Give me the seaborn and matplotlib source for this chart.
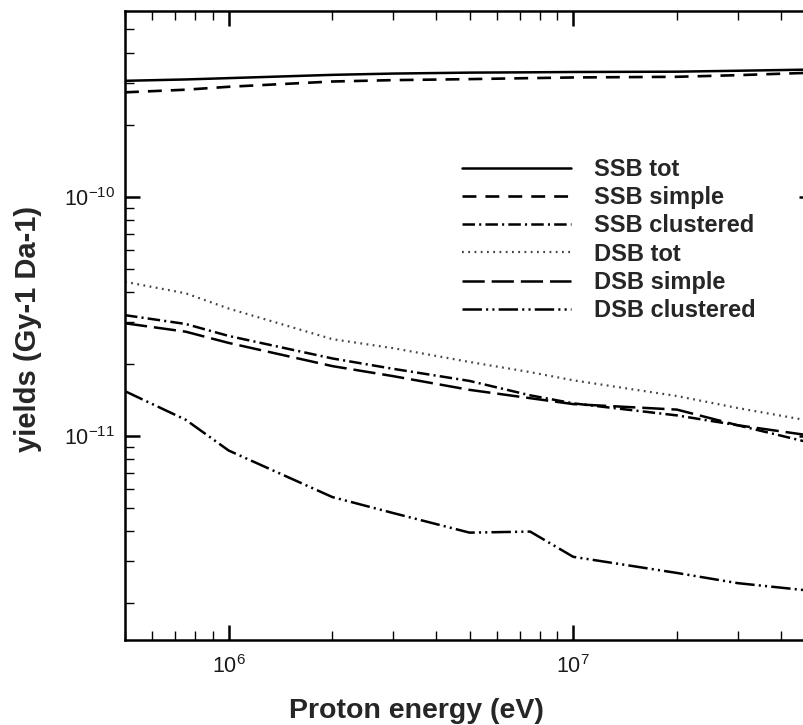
import numpy as np
import pandas as pd
import matplotlib
matplotlib.use("Agg")
import matplotlib.pyplot as plt
import seaborn as sns
from matplotlib.ticker import FixedLocator, LogFormatterMathtext, NullFormatter

# ---- data ----
energy_eV = [5e5, 7.5e5, 1e6, 2e6, 3e6, 5e6, 7.5e6, 1e7, 2e7, 3e7, 5e7]
ssb_tot = [3.05e-10, 3.09e-10, 3.13e-10, 3.23e-10, 3.27e-10, 3.30e-10, 3.31e-10, 3.32e-10, 3.33e-10, 3.36e-10, 3.40e-10]
ssb_simple = [2.73e-10, 2.80e-10, 2.88e-10, 3.03e-10, 3.07e-10, 3.10e-10, 3.13e-10, 3.15e-10, 3.17e-10, 3.22e-10, 3.30e-10]
ssb_clustered = [3.20e-11, 2.94e-11, 2.62e-11, 2.11e-11, 1.91e-11, 1.70e-11, 1.48e-11, 1.37e-11, 1.22e-11, 1.11e-11, 9.3e-12]
dsb_tot = [4.41e-11, 3.95e-11, 3.41e-11, 2.54e-11, 2.33e-11, 2.04e-11, 1.85e-11, 1.71e-11, 1.47e-11, 1.31e-11, 1.15e-11]
dsb_simple = [2.96e-11, 2.73e-11, 2.45e-11, 1.96e-11, 1.78e-11, 1.56e-11, 1.44e-11, 1.36e-11, 1.29e-11, 1.11e-11, 1.00e-11]
dsb_clustered = [1.54e-11, 1.17e-11, 8.7e-12, 5.56e-12, 4.77e-12, 3.95e-12, 3.99e-12, 3.13e-12, 2.68e-12, 2.43e-12, 2.25e-12]

series_names = ["SSB tot", "SSB simple", "SSB clustered", "DSB tot", "DSB simple", "DSB clustered"]
series_values = [ssb_tot, ssb_simple, ssb_clustered, dsb_tot, dsb_simple, dsb_clustered]

x_major_ticks = [1e6, 1e7]
y_major_ticks = [1e-11, 1e-10]

# ---- styling ----
sns.set_style("ticks")
plt.rcParams["font.family"] = ["Liberation Sans", "DejaVu Sans"]
plt.rcParams["mathtext.fontset"] = "custom"
plt.rcParams["mathtext.rm"] = "Liberation Sans"
plt.rcParams["mathtext.it"] = "Liberation Sans"
plt.rcParams["lines.scale_dashes"] = False
plt.rcParams["axes.edgecolor"] = "black"
plt.rcParams["xtick.color"] = "black"
plt.rcParams["ytick.color"] = "black"

styles = {
    "SSB tot": dict(linestyle="-", lw=1.8, color="black"),
    "SSB simple": dict(linestyle=(0, (10, 6.5)), lw=1.9, color="black"),
    "SSB clustered": dict(linestyle=(0, (9, 3, 1.5, 3)), lw=1.8, color="black"),
    "DSB tot": dict(linestyle=(0, (1.3, 3.2)), lw=1.6, color="#444444"),
    "DSB simple": dict(linestyle=(0, (16, 5)), lw=1.8, color="black"),
    "DSB clustered": dict(linestyle=(0, (14, 3, 1.5, 3, 1.5, 3)), lw=1.8, color="black"),
}

fig = plt.figure(figsize=(8.04, 7.25), dpi=100)
ax = fig.add_axes([125 / 804, 85 / 725, 689 / 804, 629 / 725])

for name, vals in zip(series_names, series_values):
    df = pd.DataFrame({"energy": energy_eV, "yield": vals})
    sns.lineplot(data=df, x="energy", y="yield", ax=ax, label=name, **styles[name])

ax.set_xscale("log")
ax.set_yscale("log")
ax.set_xlim(5e5, 5e7)
ax.set_ylim(1.406e-12, 5.97e-10)

for s in ax.spines.values():
    s.set_linewidth(1.8)
    s.set_visible(True)

x_minor = [m * 10 ** e for e in (5, 6, 7) for m in range(2, 10)]
y_minor = [m * 10 ** e for e in (-12, -11, -10) for m in range(2, 10)]
x_minor = [v for v in x_minor if 5e5 <= v <= 5e7]
y_minor = [v for v in y_minor if 1.406e-12 <= v <= 5.97e-10]

ax.xaxis.set_major_locator(FixedLocator(x_major_ticks))
ax.xaxis.set_major_formatter(LogFormatterMathtext())
ax.xaxis.set_minor_locator(FixedLocator(x_minor))
ax.xaxis.set_minor_formatter(NullFormatter())
ax.yaxis.set_major_locator(FixedLocator(y_major_ticks))
ax.yaxis.set_major_formatter(LogFormatterMathtext())
ax.yaxis.set_minor_locator(FixedLocator(y_minor))
ax.yaxis.set_minor_formatter(NullFormatter())

ax.tick_params(which="major", direction="in", length=11, width=1.8, top=True, right=True,
               labelsize=15.5, labelcolor="#1a1a1a", pad=7)
ax.tick_params(which="minor", direction="in", length=6.5, width=1.0, top=True, right=True)
ax.tick_params(axis="x", which="major", pad=11)

ax.set_xlabel("Proton energy (eV)", fontsize=20.5, fontweight="bold")
ax.set_ylabel("yields (Gy-1 Da-1)", fontsize=21, fontweight="bold")
ax.xaxis.label.set_verticalalignment("baseline")
ax.xaxis.set_label_coords((416 - 125) / 689, (640 - 718) / 629)
ax.yaxis.set_label_coords((42 - 125) / 689, (640 - 329) / 629)

handles, labels = ax.get_legend_handles_labels()
leg = ax.legend(handles, labels, loc="upper left", bbox_to_anchor=(462 / 804, 1 - 158 / 725),
                bbox_transform=fig.transFigure, frameon=False,
                prop={"weight": "bold", "size": 17}, handlelength=4.6, handletextpad=1.0,
                labelspacing=0.22, borderpad=0, borderaxespad=0)

fig.savefig("out.png", dpi=100, facecolor="white")
